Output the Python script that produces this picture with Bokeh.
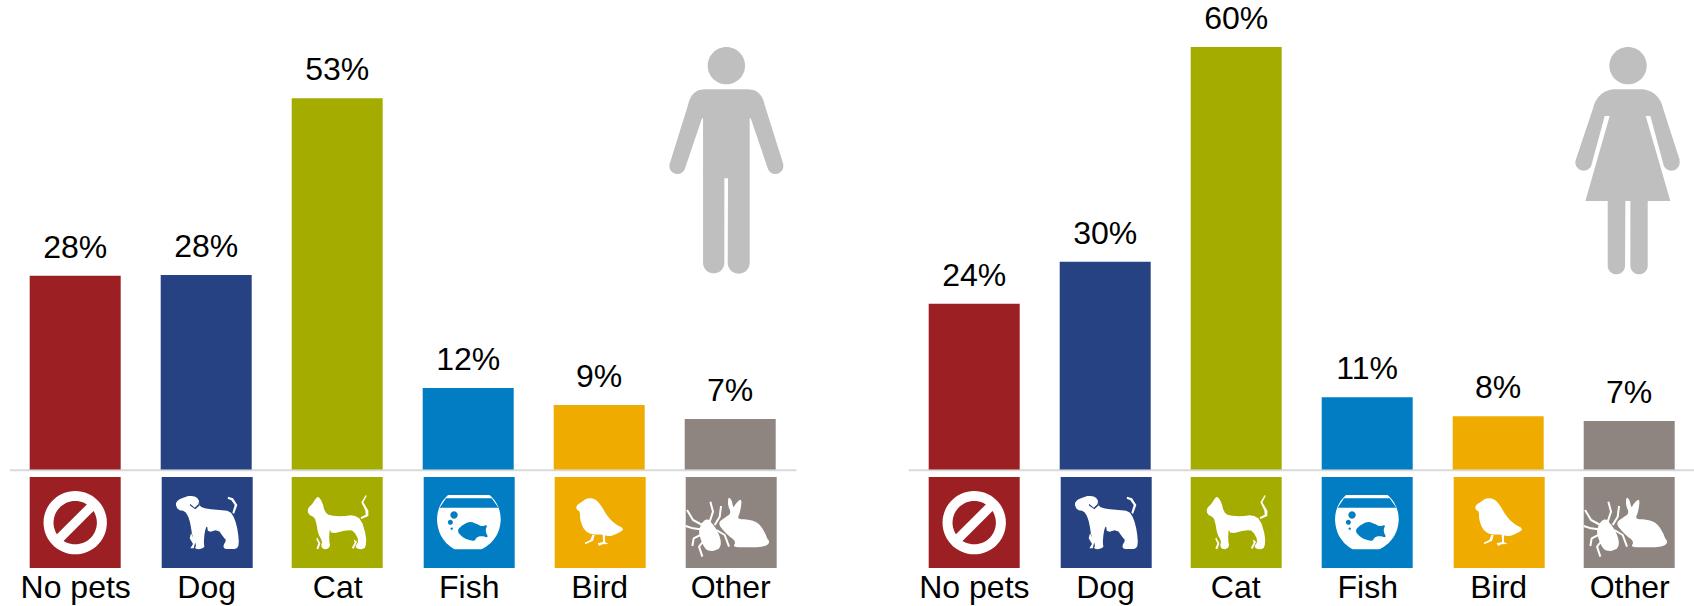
import math
from bokeh.core.properties import value
from bokeh.embed import file_html
from bokeh.layouts import row
from bokeh.models import ColumnDataSource, Range1d
from bokeh.plotting import figure
from bokeh.resources import INLINE

categories = ["No pets", "Dog", "Cat", "Fish", "Bird", "Other"]
men_values = [27.6, 27.7, 52.9, 11.6, 9.2, 7.2]
women_values = [23.6, 29.6, 60.2, 10.3, 7.6, 6.9]
men_labels = ["28%", "28%", "53%", "12%", "9%", "7%"]
women_labels = ["24%", "30%", "60%", "11%", "8%", "7%"]
colors = ["#9C1F24", "#264283", "#A5AC00", "#007DC3", "#F0AB00", "#8E8580"]

FONT = value("Liberation Sans")
PX_X, PX_Y = 131.0, 7.02
BASE_PY, TOP_PY, BOT_PY = 469.5, 0.5, 606.5
ICON_TOP, ICON_SIZE = 477.0, 91.0
GREY = "#BFBFBF"
TEXT_SHIFT = 11


def arc(cx, cy, r, a0, a1, n=24):
    return [(cx + r * math.cos(math.radians(a0 + (a1 - a0) * i / n)),
             cy + r * math.sin(math.radians(a0 + (a1 - a0) * i / n))) for i in range(n + 1)]


def quad(p0, c, p1, n=14):
    pts = []
    for i in range(n + 1):
        t = i / n
        pts.append(((1 - t) ** 2 * p0[0] + 2 * t * (1 - t) * c[0] + t * t * p1[0],
                    (1 - t) ** 2 * p0[1] + 2 * t * (1 - t) * c[1] + t * t * p1[1]))
    return pts


def smooth(pts, times=2):
    for _ in range(times):
        out = []
        m = len(pts)
        for i in range(m):
            a, b = pts[i], pts[(i + 1) % m]
            out.append((0.75 * a[0] + 0.25 * b[0], 0.75 * a[1] + 0.25 * b[1]))
            out.append((0.25 * a[0] + 0.75 * b[0], 0.25 * a[1] + 0.75 * b[1]))
        pts = out
    return pts


def rel(pts, ox, oy=111):
    return [(x - ox, y - oy) for x, y in pts]


def slash(cx, cy, half_len, half_w):
    k = math.sqrt(0.5)
    ux, uy, nx, ny = k, -k, k, k
    return [(cx + ux * half_len + nx * half_w, cy + uy * half_len + ny * half_w),
            (cx + ux * half_len - nx * half_w, cy + uy * half_len - ny * half_w),
            (cx - ux * half_len - nx * half_w, cy - uy * half_len - ny * half_w),
            (cx - ux * half_len + nx * half_w, cy - uy * half_len + ny * half_w)]


W = "#FFFFFF"
ICONS = [
    lambda c: [
        (arc(136.5, 137, 95, 0, 360, 60), W),
        (arc(136.5, 137, 65, 0, 360, 60), c),
        (slash(136.5, 137, 72, 14), W),
    ],
    lambda c: [
        (smooth(rel([(527, 192), (535, 180), (553, 172), (570, 167), (590, 170), (600, 185), (600, 200), (625, 207),
                     (660, 210), (690, 213), (705, 235), (715, 275), (718, 315), (710, 327), (690, 327), (675, 327),
                     (670, 318), (680, 300), (672, 293), (655, 268), (625, 278), (622, 255), (615, 275), (612, 310),
                     (615, 322), (600, 328), (585, 326), (590, 315), (578, 290), (572, 250), (565, 228), (555, 213),
                     (535, 210)], 486), 1), W),
        (rel([(685, 170), (700, 175), (713, 195), (703, 222), (698, 218), (705, 195), (695, 181), (684, 176)], 486), W),
        (rel([(574, 280), (587, 305), (582, 325), (572, 325), (580, 312), (570, 295)], 486), W),
        (rel([(572, 192), (585, 203), (596, 193), (599, 181), (601, 182), (600, 196), (587, 208), (570, 196)], 486), c),
    ],
    lambda c: [
        (smooth(rel([(945, 180), (955, 168), (968, 186), (975, 215), (990, 227), (1030, 229), (1060, 225), (1085, 238),
                     (1100, 290), (1098, 322), (1088, 328), (1075, 327), (1066, 320), (1078, 302), (1062, 272),
                     (1042, 270), (995, 282), (990, 265), (988, 300), (992, 320), (980, 328), (968, 326), (964, 315),
                     (968, 305), (955, 280), (950, 250), (945, 233), (925, 222), (924, 205), (938, 192)], 876), 1), W),
        (rel([(1098, 165), (1101, 168), (1091, 187), (1106, 212), (1106, 228), (1085, 237), (1083, 232), (1098, 224),
              (1097, 212), (1085, 187)], 876), W),
        (rel([(952, 292), (962, 310), (956, 328), (950, 326), (956, 310), (950, 298)], 876), W),
        (rel([(1062, 298), (1072, 305), (1062, 326), (1056, 324), (1065, 308)], 876), W),
    ],
    lambda c: [
        (rel(quad((85, 165), (52, 195), (52, 240)) + quad((52, 240), (55, 300), (105, 328))
             + quad((185, 328), (240, 300), (243, 240)) + quad((243, 240), (243, 195), (210, 165)), 12), W),
        (rel([(79, 175), (216, 175), (236, 203), (60, 203)], 12), c),
        (rel(arc(103, 225, 11, 0, 360), 12), c),
        (rel(arc(92, 247, 7.5, 0, 360), 12), c),
        (rel(arc(96, 266, 3.5, 0, 360), 12), c),
        (smooth(rel([(111, 272), (128, 255), (150, 244), (172, 252), (187, 260), (204, 253), (196, 272), (207, 294),
                     (186, 287), (170, 292), (165, 303), (150, 301), (128, 292)], 12)), c),
    ],
    lambda c: [
        (smooth(rel([(470, 196), (486, 186), (500, 175), (524, 175), (542, 192), (562, 228), (587, 253), (616, 267),
                     (592, 281), (570, 290), (545, 283), (515, 284), (493, 270), (481, 240), (481, 214), (470, 209)], 405)), W),
        (rel([(518, 284), (525, 286), (520, 302), (505, 309), (497, 313), (495, 308), (512, 300)], 405), W),
        (rel([(549, 284), (556, 284), (556, 306), (566, 312), (548, 313), (538, 318), (534, 310), (550, 306)], 405), W),
    ],
    lambda c: [
        (smooth(rel([(926, 170), (936, 180), (941, 205), (948, 190), (967, 174), (962, 215), (952, 238), (985, 238),
                     (1017, 248), (1037, 280), (1042, 295), (1050, 305), (1042, 317), (1015, 322), (990, 322),
                     (938, 322), (950, 305), (920, 282), (893, 250), (915, 233), (935, 220), (924, 195)], 798)), W),
        (smooth(rel([(850, 243), (865, 236), (877, 250), (892, 270), (904, 300), (902, 324), (880, 334), (858, 330),
                     (843, 300), (836, 270)], 798)), W),
    ],
]
ICON_LINES = {
    5: [[(848, 255), (820, 240), (802, 210)], [(842, 268), (820, 265), (798, 258)],
        [(842, 285), (822, 295), (818, 318)], [(850, 305), (838, 320), (848, 350)],
        [(870, 245), (880, 215), (872, 185)], [(885, 255), (900, 230), (904, 198)],
        [(890, 270), (915, 285), (928, 320)]],
}
MAN = (arc(230, 107, 56, 0, 360, 60),
       [(165, 178), (295, 178)] + quad((295, 178), (335, 178), (345, 225)) + [(400, 400)]
       + arc(377, 408, 24, -15, 155) + [(303, 265), (300, 265)] + arc(267, 698, 33, 0, 180)
       + [(235, 445), (224, 445)] + arc(192, 698, 32, 0, 180) + [(160, 265), (157, 265)]
       + arc(83, 408, 24, 25, 195) + [(115, 225)] + quad((115, 225), (125, 178), (165, 178)))
WOMAN = (arc(205, 107, 56, 0, 360, 60),
         [(160, 178), (250, 178)] + quad((250, 178), (298, 185), (310, 235)) + [(360, 390)]
         + arc(335, 397, 25, -15, 155) + [(272, 258), (258, 258), (332, 513), (264, 513)]
         + arc(238, 707, 26, 0, 180) + [(212, 513), (197, 513)] + arc(170, 707, 26, 0, 180)
         + [(144, 513), (77, 513), (150, 258), (135, 258)] + arc(72, 397, 25, 25, 195)
         + [(100, 235)] + quad((100, 235), (112, 185), (160, 178)))


def panel(vals, labels, width, left_px, first_center_px, icon_lefts, label_centers, rule, person, person_origin):
    def dx(px):
        return (px - first_center_px) / PX_X

    def dy(py):
        return (BASE_PY - py) / PX_Y

    p = figure(width=width, height=606, output_backend="svg", toolbar_location=None,
               x_range=Range1d(dx(left_px), dx(left_px + width)), y_range=Range1d(dy(BOT_PY), dy(TOP_PY)),
               min_border=0, outline_line_color=None)
    p.axis.visible = False
    p.grid.visible = False
    p.min_border_left = p.min_border_right = p.min_border_top = p.min_border_bottom = 0

    p.line([dx(rule[0]), dx(rule[1])], [dy(470.2), dy(470.2)], line_color="#D9D9D9", line_width=2)

    src = ColumnDataSource(dict(x=list(range(len(categories))), top=vals, color=colors, label=labels, cat=categories))
    p.vbar(x="x", top="top", bottom=0, width=91 / PX_X, fill_color="color", line_color=None, source=src)
    p.text(x="x", y="top", text="label", source=src, text_font=FONT, text_font_size="32px", text_color="#000000",
           text_align="center", text_baseline="alphabetic", y_offset=-18 - TEXT_SHIFT)

    for i, left in enumerate(icon_lefts):
        p.quad(left=dx(left), right=dx(left + ICON_SIZE), top=dy(ICON_TOP), bottom=dy(ICON_TOP + ICON_SIZE),
               fill_color=colors[i], line_color=None)
        for pts, col in ICONS[i](colors[i]):
            p.patch([dx(left + x / 3) for x, _ in pts], [dy(ICON_TOP + y / 3) for _, y in pts],
                    fill_color=col, line_color=None)
        for pts in ICON_LINES.get(i, []):
            p.line([dx(left + (x - 798) / 3) for x, _ in pts], [dy(ICON_TOP + (y - 111) / 3) for _, y in pts],
                   line_color=W, line_width=2)

    p.text(x=[dx(c) for c in label_centers], y=[dy(598.3 - TEXT_SHIFT)] * 6, text=categories, text_font=FONT,
           text_font_size="32px", text_color="#000000", text_align="center", text_baseline="alphabetic")

    ox, oy = person_origin
    for pts in person:
        p.patch([dx(ox + x / 3) for x, _ in pts], [dy(oy + y / 3) for _, y in pts], fill_color=GREY, line_color=None)
    return p


men = panel(men_values, men_labels, 847, 0.8, 75.5, [30, 162, 292, 424, 555, 686],
            [76, 207, 338, 469.5, 600, 731], (10, 796.7), MAN, (650, 30))
women = panel(women_values, women_labels, 847, 847.8, 974.5, [929, 1061, 1191, 1322, 1454, 1584],
              [974.7, 1105.8, 1236, 1368, 1499, 1630], (909, 1695), WOMAN, (1560, 30))

layout = row(men, women, spacing=0)
open("out.html", "w").write(file_html(layout, INLINE))
